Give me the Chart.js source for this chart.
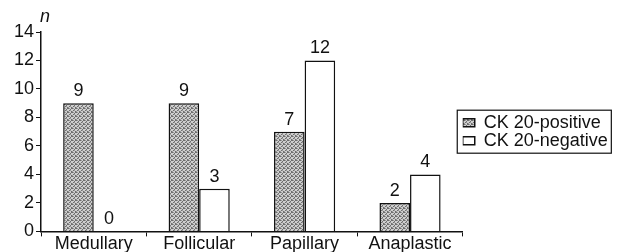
<!DOCTYPE html>
<html>
<head>
<meta charset="utf-8">
<script src="https://cdn.jsdelivr.net/npm/chart.js@4.4.1/dist/chart.umd.min.js"></script>
<style>
	html, body { margin: 0; padding: 0; background: #fff; }
	#wrap { width: 619px; height: 252px; }
</style>
</head>
<body>
<div id="wrap"><canvas id="chart"></canvas></div>
<script>
// values
const categories = ["Medullary", "Follicular", "Papillary", "Anaplastic"];
const positive = [9, 9, 7, 2];
const negative = [0, 3, 12, 4];
const seriesNames = ["CK 20-positive", "CK 20-negative"];

const font = "'Liberation Sans', Arial, sans-serif";
const legendSize = 18;
const legendBox = 12;

// stippled grey fill like the printed bars
const makePattern = () => {
	const c = document.createElement("canvas");
	c.width = 4;
	c.height = 4;
	const p = c.getContext("2d");
	p.fillStyle = "#cfcfcf";
	p.fillRect(0, 0, 4, 4);
	p.fillStyle = "#6e6e6e";
	[[0, 0], [2, 1], [1, 2], [3, 3], [3, 0]].forEach(([x, y]) => p.fillRect(x, y, 1, 1));
	p.fillStyle = "#9a9a9a";
	[[1, 0], [0, 3], [2, 2]].forEach(([x, y]) => p.fillRect(x, y, 1, 1));
	return p.createPattern(c, "repeat");
};

const grey = makePattern();

// numbers above the bars + the little "n" + legend frame
const extras = {
	id: "extras",
	afterDatasetsDraw(chart) {
		const ctx = chart.ctx;
		ctx.save();
		ctx.fillStyle = "#111";
		ctx.font = "18px " + font;
		ctx.textAlign = "center";
		ctx.textBaseline = "bottom";
		chart.data.datasets.forEach((ds, i) => {
			chart.getDatasetMeta(i).data.forEach((bar, j) => {
				ctx.fillText(ds.data[j], bar.x, bar.y - 3);
			});
		});
		ctx.font = "italic 18px " + font;
		ctx.textAlign = "left";
		ctx.fillText("n", chart.chartArea.left - 1, chart.chartArea.top - 6);
		ctx.restore();
	},
	afterDraw(chart) {
		const boxes = chart.legend.legendHitBoxes;
		if (!boxes || !boxes.length) return;
		const ctx = chart.ctx;
		ctx.save();
		ctx.font = legendSize + "px " + font;
		let l = Infinity, t = Infinity, r = -Infinity, b = -Infinity;
		boxes.forEach((h, i) => {
			const textEnd = h.left + legendBox + legendSize / 2 + ctx.measureText(seriesNames[i]).width;
			l = Math.min(l, h.left);
			t = Math.min(t, h.top);
			r = Math.max(r, textEnd);
			b = Math.max(b, h.top + h.height);
		});
		ctx.strokeStyle = "#111";
		ctx.lineWidth = 1.2;
		ctx.strokeRect(l - 5.5, t - 3.5, r - l + 9, b - t + 7);
		ctx.restore();
	},
};

new Chart(document.getElementById("chart"), {
	type: "bar",
	data: {
		labels: categories,
		datasets: [
			{
				label: seriesNames[0],
				data: positive,
				backgroundColor: grey,
				borderColor: "#111",
				borderWidth: 1.5,
			},
			{
				label: seriesNames[1],
				data: negative,
				backgroundColor: "#fff",
				borderColor: "#111",
				borderWidth: 1.5,
			},
		],
	},
	options: {
		responsive: true,
		maintainAspectRatio: false,
		animation: false,
		layout: { padding: { top: 32, left: 12, right: 6, bottom: 0 } },
		datasets: {
			bar: { categoryPercentage: 0.58, barPercentage: 1 },
		},
		scales: {
			x: {
				grid: { display: true, offset: true, drawOnChartArea: false, tickLength: 5, color: "#111" },
				border: { color: "#111", width: 1.5 },
				ticks: { color: "#111", font: { family: font, size: 18 }, padding: -3 },
			},
			y: {
				min: 0,
				max: 14,
				grid: { drawOnChartArea: false, tickLength: 5, color: "#111" },
				border: { color: "#111", width: 1.5 },
				ticks: { stepSize: 2, color: "#111", font: { family: font, size: 18 }, padding: 2 },
			},
		},
		plugins: {
			legend: {
				position: "right",
				fullSize: false,
				labels: {
					color: "#111",
					font: { family: font, size: legendSize },
					boxWidth: legendBox,
					boxHeight: 8,
					padding: 0,
				},
			},
			tooltip: { enabled: false },
		},
	},
	plugins: [extras],
});
</script>
</body>
</html>
